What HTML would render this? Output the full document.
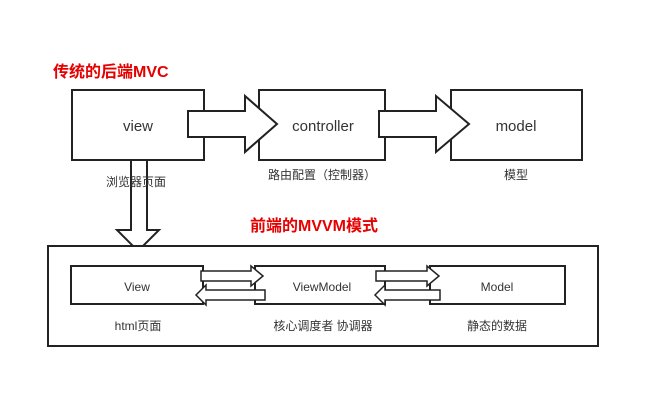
<!DOCTYPE html>
<html><head><meta charset="utf-8"><style>
body{margin:0;background:#fff;}
svg text{font-family:"Liberation Sans","Noto Sans CJK SC",sans-serif;}
</style></head><body>
<svg width="660" height="407" viewBox="0 0 660 407" xmlns="http://www.w3.org/2000/svg">
<rect width="660" height="407" fill="#fff"/>
<g fill="#fff" stroke="#222" stroke-width="2">
<rect x="72" y="90" width="132" height="70"/>
<rect x="259" y="90" width="126" height="70"/>
<rect x="451" y="90" width="131" height="70"/>
<polygon points="188,111 245,111 245,96 277,124 245,152 245,137 188,137"/>
<polygon points="379,111 436,111 436,96 469,124 436,152 436,137 379,137"/>
<polygon points="131,160 147,160 147,230 159,230 138,251 117,230 131,230"/>
<rect x="48" y="246" width="550" height="100"/>
<rect x="71" y="266" width="132" height="38"/>
<rect x="255" y="266" width="130" height="38"/>
<rect x="430" y="266" width="135" height="38"/>
<polygon points="201,271 251,271 251,266 263,276 251,286 251,281 201,281" stroke-width="1.5"/>
<polygon points="265,290 206,290 206,285 196,295 206,305 206,300 265,300" stroke-width="1.5"/>
<polygon points="376,271 427,271 427,266 439,276 427,286 427,281 376,281" stroke-width="1.5"/>
<polygon points="440,290 385,290 385,285 375,295 385,305 385,300 440,300" stroke-width="1.5"/>
</g>
<g fill="#333" font-size="15" text-anchor="middle">
<text x="138" y="131">view</text>
<text x="323" y="131">controller</text>
<text x="516" y="131">model</text>
</g>
<g fill="#333" font-size="12" text-anchor="middle">
<text x="137" y="291">View</text>
<text x="322" y="291">ViewModel</text>
<text x="497" y="291">Model</text>
<text x="138" y="330">html页面</text>
<text x="323" y="330">核心调度者 协调器</text>
<text x="497" y="330">静态的数据</text>
<text x="136" y="186">浏览器页面</text>
<text x="322" y="179">路由配置（控制器）</text>
<text x="516" y="179">模型</text>
</g>
<g fill="#e60000" font-size="16" font-weight="bold">
<text x="53" y="77">传统的后端MVC</text>
<text x="250" y="231">前端的MVVM模式</text>
</g>
</svg>
</body></html>
